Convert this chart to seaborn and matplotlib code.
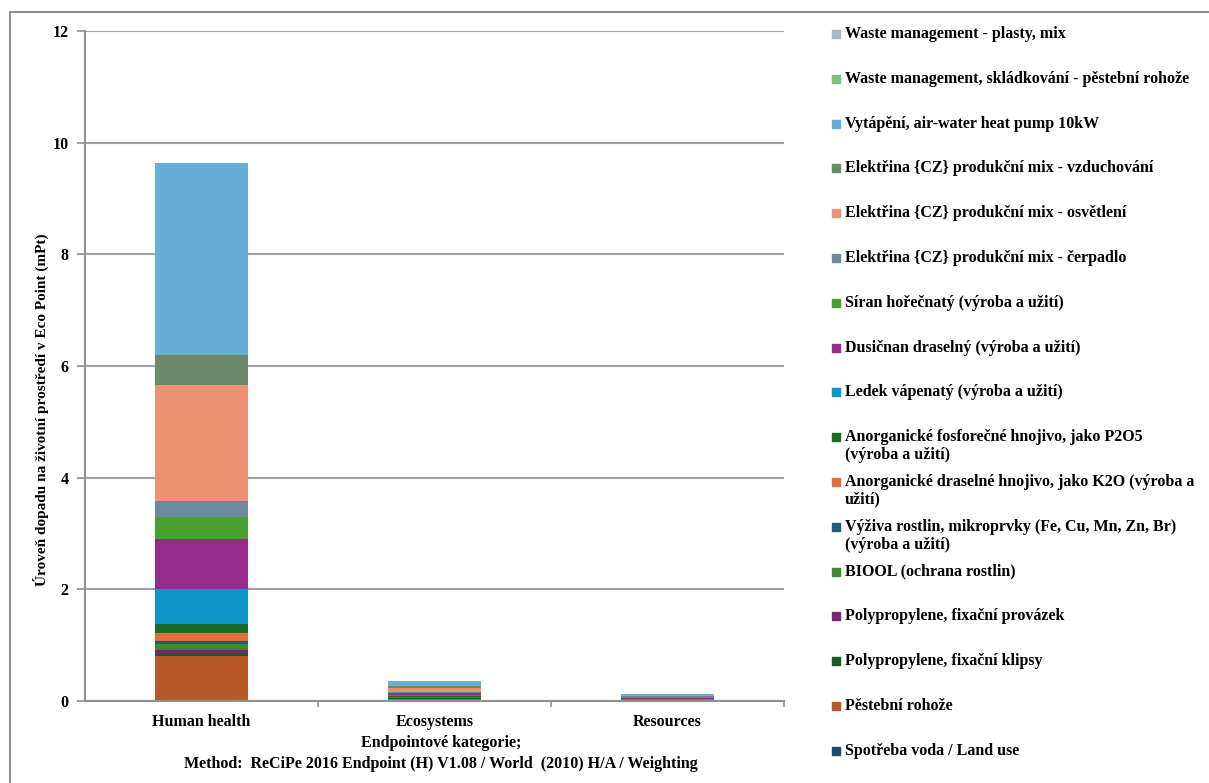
import numpy as np
import pandas as pd
import seaborn as sns
import matplotlib.pyplot as plt
from matplotlib.patches import Rectangle

categories = ['Human health', 'Ecosystems', 'Resources']

# stack order: bottom -> top
processes = [
    'Spotřeba voda / Land use',
    'Pěstební rohože',
    'Polypropylene, fixační klipsy',
    'Polypropylene, fixační provázek',
    'BIOOL (ochrana rostlin)',
    'Výživa rostlin, mikroprvky (Fe, Cu, Mn, Zn, Br)\n(výroba a užití)',
    'Anorganické draselné hnojivo, jako K2O (výroba a\nužití)',
    'Anorganické fosforečné hnojivo, jako P2O5\n(výroba a užití)',
    'Ledek vápenatý (výroba a užití)',
    'Dusičnan draselný (výroba a užití)',
    'Síran hořečnatý (výroba a užití)',
    'Elektřina {CZ} produkční mix - čerpadlo',
    'Elektřina {CZ} produkční mix - osvětlení',
    'Elektřina {CZ} produkční mix - vzduchování',
    'Vytápění, air-water heat pump 10kW',
    'Waste management, skládkování - pěstební rohože',
    'Waste management - plasty, mix',
]

colors = ['#1B4B6B', '#B85A28', '#1A5A25', '#7A2475', '#3F8A2A', '#1A5C7A',
          '#E0703A', '#1A6B2A', '#0E96C8', '#952A8A', '#4AA02E', '#6A8AA0',
          '#EC9272', '#6A8A6A', '#67AEDA', '#7DC27A', '#A9B8C6']

human_health = [0.01, 0.80, 0.03, 0.07, 0.11, 0.06, 0.13, 0.17, 0.62, 0.90,
                0.39, 0.30, 2.07, 0.54, 3.43, 0.005, 0.005]
ecosystems = [0.01, 0.03, 0.005, 0.01, 0.01, 0.005, 0.01, 0.01, 0.02, 0.03,
              0.01, 0.02, 0.07, 0.02, 0.08, 0.01, 0.01]
resources = [0.001, 0.005, 0.002, 0.005, 0.002, 0.002, 0.003, 0.003, 0.005,
             0.02, 0.005, 0.01, 0.015, 0.005, 0.035, 0.001, 0.001]

df = pd.DataFrame({'Human health': human_health, 'Ecosystems': ecosystems,
                   'Resources': resources}, index=processes)
cum = df.cumsum()

plt.rcParams['font.family'] = ['Liberation Serif', 'DejaVu Serif']
plt.rcParams['font.weight'] = 'bold'

fig = plt.figure(figsize=(12.09, 7.83), dpi=100)
ax = fig.add_axes([85 / 1209, 1 - 701 / 783, 699 / 1209, 670 / 783])

# draw cumulative bars from top layer down so each covers the one below
for i in range(len(processes) - 1, -1, -1):
    sns.barplot(x=categories, y=cum.iloc[i][categories].values, color=colors[i],
                width=0.4, saturation=1, ax=ax, linewidth=0)

ax.set_ylim(0, 12)
ax.set_xlim(-0.5, 2.5)
ax.set_yticks(range(0, 13, 2))
ax.yaxis.grid(True, color='#A0A0A0', linewidth=1.5)
ax.set_axisbelow(True)
for s in ['top', 'right']:
    ax.spines[s].set_visible(False)
ax.spines['left'].set_color('#909090')
ax.spines['bottom'].set_color('#909090')
ax.spines['left'].set_linewidth(1.5)
ax.spines['bottom'].set_linewidth(1.5)
ax.tick_params(axis='y', length=6, width=1.2, color='#909090', labelsize=11.5, pad=6)
ax.tick_params(axis='x', which='major', length=0, labelsize=11.5, pad=9)
ax.set_xticks([0.5, 1.5, 2.5], minor=True)
ax.tick_params(axis='x', which='minor', length=4, width=1.2, color='#909090')
for lab in ax.get_xticklabels() + ax.get_yticklabels():
    lab.set_fontweight('bold')

ax.set_ylabel('Úroveň dopadu na životní prostředí v Eco Point (mPt)',
              fontsize=11, fontweight='bold')
ax.yaxis.set_label_coords(-0.052, (701 - 410) / 670)
ax.set_xlabel('Endpointové kategorie;\nMethod:  ReCiPe 2016 Endpoint (H) V1.08 / World  (2010) H/A / Weighting',
              fontsize=11.5, fontweight='bold', linespacing=1.38)
ax.xaxis.set_label_coords((441 - 85) / 699, -(735 - 701) / 670)

# legend, reversed order, fixed spacing
W, H = 1209, 783
for k, i in enumerate(range(len(processes) - 1, -1, -1)):
    yc = 34 + k * 44.8
    fig.patches.append(Rectangle((832 / W, 1 - (yc + 4) / H), 8 / W, 8 / H,
                                 transform=fig.transFigure, color=colors[i]))
    fig.text(845 / W, 1 - (yc - 8) / H, processes[i], fontsize=11.5,
             fontweight='bold', va='top', ha='left', linespacing=1.15)

# outer frame
fig.patches.append(Rectangle((10 / W, -0.01), 1.02, 1 - 12 / H + 0.01,
                             transform=fig.transFigure, fill=False,
                             edgecolor='#909090', linewidth=1.5))

fig.savefig('out.png', dpi=100)
